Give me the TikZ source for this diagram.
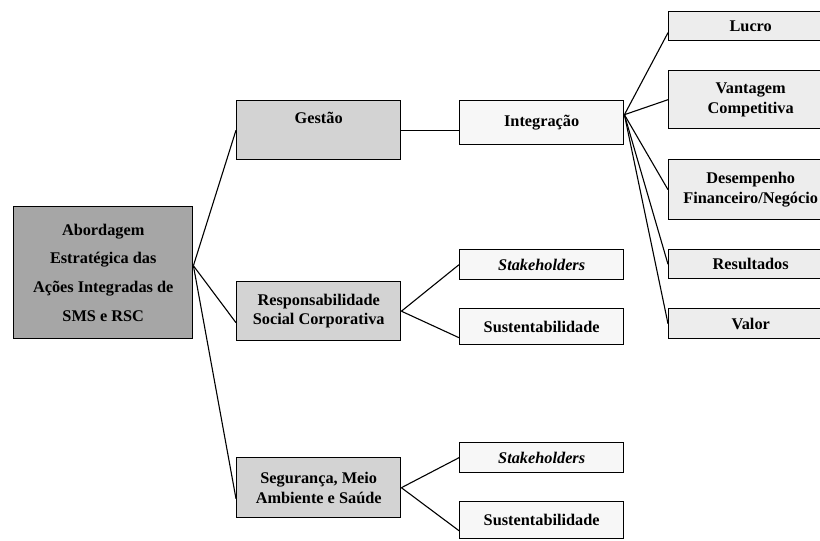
\documentclass[tikz,border=0pt]{standalone}
\usepackage{fontspec}
\setmainfont{Liberation Serif}
\definecolor{rootgray}{HTML}{A6A6A6}
\definecolor{midgray}{HTML}{D3D3D3}
\definecolor{leafgray}{HTML}{F7F7F7}
\definecolor{resgray}{HTML}{EDEDED}
\begin{document}
\begin{tikzpicture}[x=1pt,y=-1pt,
  box/.style={draw=black, line width=1.4pt, anchor=north west, inner sep=0pt, align=center,
    font=\bfseries\fontsize{16.3}{19.5}\selectfont, minimum width=164pt},
  rootbox/.style={box, fill=rootgray, minimum width=179pt, minimum height=132pt,
    font=\bfseries\fontsize{16.3}{28.7}\selectfont},
  midbox/.style={box, fill=midgray, minimum height=59pt},
  leafbox/.style={box, fill=leafgray},
  resbox/.style={box, fill=resgray},
  conn/.style={line width=1.1pt}]
\useasboundingbox (0,0) rectangle (820,541);
\clip (0,0) rectangle (820,541);
% nodes
\node[rootbox] (root) at (13,206) {Abordagem\\Estratégica das\\Ações Integradas de\\SMS e RSC};
\node[midbox, text height=12pt, text depth=25pt] (gestao) at (236,100) {Gestão};
\node[midbox] (rsc) at (236,281) {Responsabilidade\\Social Corporativa};
\node[midbox, minimum height=60pt] (sms) at (236,457) {Segurança, Meio\\Ambiente e Saúde};
\node[leafbox, minimum height=44pt] (integ) at (459,100) {Integração};
\node[leafbox, minimum height=30pt] (stkA) at (459,249) {\textit{Stakeholders}};
\node[leafbox, minimum height=36pt] (susA) at (459,308) {Sustentabilidade};
\node[leafbox, minimum height=30pt] (stkB) at (459,442) {\textit{Stakeholders}};
\node[leafbox, minimum height=37pt] (susB) at (459,501) {Sustentabilidade};
\node[resbox, minimum height=29pt] (lucro) at (668,11) {Lucro};
\node[resbox, minimum height=58pt] (vant) at (668,70) {Vantagem\\Competitiva};
\node[resbox, minimum height=60pt] (desemp) at (668,159) {Desempenho\\Financeiro/Negócio};
\node[resbox, minimum height=29pt] (result) at (668,249) {Resultados};
\node[resbox, minimum height=30pt] (valor) at (668,308) {Valor};
% connectors
\coordinate (ro) at ([yshift=7pt]root.east);
\draw[conn] (ro) -- (gestao.west);
\draw[conn] (ro) -- ([yshift=-11.5pt]rsc.west);
\draw[conn] (ro) -- ([yshift=-11pt]sms.west);
\draw[conn] (gestao.east) -- (gestao.east -| integ.west);
\coordinate (io) at ([yshift=8pt]integ.east);
\draw[conn] (io) -- ([yshift=-6.5pt]lucro.west);
\draw[conn] (io) -- (vant.west);
\draw[conn] (io) -- (desemp.west);
\draw[conn] (io) -- (result.west);
\draw[conn] (io) -- (valor.west);
\draw[conn] (rsc.east) -- (stkA.west);
\draw[conn] (rsc.east) -- ([yshift=-11pt]susA.west);
\draw[conn] (sms.east) -- (stkB.west);
\draw[conn] (sms.east) -- ([yshift=-10.5pt]susB.west);
\end{tikzpicture}
\end{document}
